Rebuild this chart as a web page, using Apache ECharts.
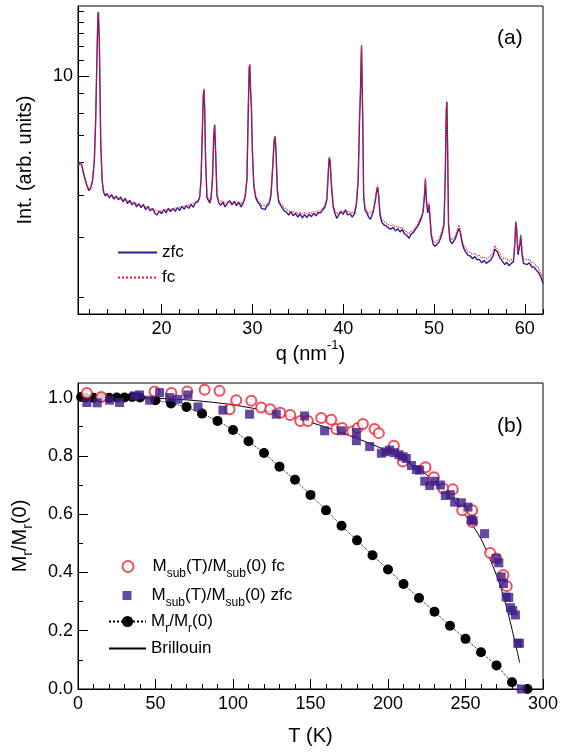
<!DOCTYPE html>
<html><head><meta charset="utf-8">
<script src="https://cdn.jsdelivr.net/npm/echarts@6/dist/echarts.min.js"></script>
<style>html,body{margin:0;padding:0;background:#fff}#c{width:569px;height:752px}</style>
</head><body><div id="c"></div>
<script>
// ---------- panel (a): diffraction patterns ----------
const q = [10.8,11.0,11.2,11.4,11.6,11.8,12.0,12.2,12.4,12.6,12.75,12.9,13.0,13.05,13.15,13.3,13.45,13.6,13.8,14.0,
14.25,14.5,14.75,15.0,15.25,15.5,15.75,16.0,16.25,16.5,16.75,17.0,17.25,17.5,17.75,18.0,18.25,18.5,18.75,19.0,
19.25,19.5,19.75,20.0,20.25,20.5,20.75,21.0,21.25,21.5,21.75,22.0,22.25,22.5,22.75,23.0,23.25,23.5,23.75,24.0,
24.2,24.35,24.5,24.6,24.67,24.75,24.85,25.0,25.15,25.3,25.45,25.6,25.75,25.85,25.95,26.1,26.3,26.5,26.75,27.0,
27.25,27.5,27.75,28.0,28.25,28.5,28.75,29.0,29.2,29.4,29.55,29.65,29.72,29.8,29.9,30.0,30.15,30.35,30.6,30.85,
31.0,31.2,31.4,31.6,31.85,32.05,32.25,32.4,32.5,32.6,32.75,32.9,33.1,33.3,33.5,33.75,34.0,34.25,34.5,34.75,
35.0,35.25,35.5,35.75,36.0,36.25,36.5,36.75,37.0,37.25,37.5,37.75,38.0,38.2,38.35,38.45,38.55,38.7,38.9,39.1,
39.3,39.5,39.75,40.0,40.25,40.5,40.75,41.0,41.25,41.45,41.65,41.8,41.9,41.97,42.02,42.08,42.15,42.25,42.4,42.6,
42.8,43.0,43.3,43.55,43.7,43.8,43.9,44.05,44.25,44.5,44.75,45.0,45.25,45.5,45.75,46.0,46.25,46.5,46.75,47.0,
47.25,47.5,47.75,48.0,48.2,48.4,48.6,48.8,48.95,49.05,49.15,49.3,49.45,49.55,49.7,49.9,50.1,50.3,50.5,50.7,
50.9,51.1,51.25,51.35,51.42,51.5,51.6,51.75,51.95,52.15,52.35,52.55,52.75,52.9,53.1,53.3,53.5,53.75,54.0,54.25,
54.5,54.75,55.0,55.25,55.5,55.75,56.0,56.25,56.5,56.7,56.85,57.0,57.2,57.4,57.6,57.8,58.0,58.25,58.5,58.75,
58.9,59.0,59.1,59.25,59.45,59.55,59.7,59.85,60.0,60.25,60.5,60.75,61.0,61.25,61.5,61.75,62.0];
const zfc = [5.85,6.0,5.92,5.65,5.44,5.25,5.13,5.2,5.42,6.05,7.7,11.7,14.7,14.9,12.3,6.8,5.44,5.1,4.98,5.05,
4.93,5.02,4.9,4.98,4.88,4.96,4.83,4.92,4.78,4.87,4.75,4.82,4.7,4.78,4.68,4.76,4.63,4.71,4.6,4.66,
4.55,4.5,4.6,4.53,4.63,4.55,4.66,4.58,4.66,4.59,4.68,4.61,4.71,4.64,4.73,4.66,4.76,4.69,4.81,4.83,
4.95,5.44,7.3,8.9,9.2,8.14,6.07,4.93,4.87,4.8,4.9,5.44,7.0,7.45,6.4,5.0,4.8,4.74,4.82,4.7,
4.79,4.86,4.75,4.84,4.73,4.82,4.7,4.8,4.95,5.44,8.14,10.5,10.7,9.2,8.14,6.4,5.3,4.95,4.82,4.74,
4.66,4.71,4.63,4.72,4.78,5.0,5.9,6.8,6.94,6.4,5.15,4.82,4.74,4.67,4.6,4.57,4.5,4.58,4.48,4.54,
4.45,4.53,4.43,4.51,4.44,4.52,4.46,4.54,4.48,4.56,4.55,4.62,4.7,4.88,5.6,6.15,6.07,5.3,4.7,4.53,
4.42,4.5,4.58,4.52,4.62,4.5,4.53,4.45,4.53,4.75,5.44,7.7,9.0,11.0,12.0,11.9,7.7,5.0,4.62,4.55,
4.45,4.4,4.57,4.88,5.15,5.22,5.0,4.5,4.33,4.27,4.25,4.2,4.18,4.22,4.14,4.19,4.12,4.17,4.08,4.05,
3.99,4.08,4.11,4.19,4.24,4.33,4.42,4.57,5.0,5.44,4.88,4.55,4.75,4.72,4.05,3.87,3.83,3.82,3.9,3.98,
4.1,4.27,5.75,8.14,8.54,6.4,4.27,3.95,3.88,3.92,3.98,4.1,4.2,4.1,3.89,3.78,3.72,3.66,3.65,3.6,
3.64,3.58,3.59,3.53,3.57,3.52,3.55,3.58,3.65,3.78,3.8,3.72,3.63,3.6,3.54,3.5,3.54,3.48,3.52,3.55,
3.86,4.33,4.16,3.67,3.86,4.03,3.67,3.52,3.55,3.5,3.53,3.46,3.46,3.41,3.37,3.3,3.2];
const fc = [5.88,6.02,5.95,5.7,5.47,5.28,5.17,5.24,5.45,6.1,7.8,11.8,14.6,14.8,12.4,6.9,5.48,5.14,5.02,5.0,
4.98,4.97,4.95,4.93,4.92,4.9,4.88,4.87,4.84,4.82,4.8,4.78,4.77,4.74,4.73,4.71,4.7,4.68,4.66,4.64,
4.62,4.6,4.58,4.6,4.61,4.63,4.62,4.64,4.65,4.67,4.68,4.7,4.71,4.72,4.74,4.75,4.77,4.79,4.82,4.86,
4.98,5.5,7.4,9.0,9.25,8.2,6.1,4.98,4.92,4.86,4.95,5.5,7.05,7.5,6.45,5.05,4.86,4.82,4.84,4.8,
4.82,4.84,4.8,4.83,4.79,4.82,4.78,4.84,4.98,5.5,8.2,10.6,10.75,9.25,8.2,6.45,5.35,5.0,4.88,4.8,
4.74,4.74,4.72,4.76,4.82,5.05,5.95,6.85,7.0,6.45,5.2,4.88,4.8,4.74,4.68,4.64,4.6,4.6,4.57,4.58,
4.54,4.56,4.53,4.55,4.53,4.56,4.55,4.58,4.57,4.6,4.62,4.67,4.76,4.94,5.65,6.2,6.12,5.35,4.76,4.6,
4.52,4.55,4.6,4.58,4.63,4.57,4.58,4.54,4.6,4.8,5.5,7.8,9.1,11.1,12.1,12.0,7.8,5.05,4.68,4.6,
4.52,4.48,4.62,4.92,5.2,5.28,5.05,4.57,4.4,4.34,4.32,4.27,4.26,4.27,4.22,4.24,4.2,4.22,4.16,4.12,
4.08,4.13,4.17,4.24,4.29,4.38,4.47,4.62,5.05,5.5,4.94,4.6,4.8,4.77,4.1,3.94,3.9,3.9,3.96,4.04,
4.16,4.33,5.8,8.2,8.6,6.45,4.33,4.02,3.95,3.98,4.04,4.16,4.27,4.16,3.95,3.85,3.79,3.73,3.71,3.68,
3.7,3.65,3.66,3.61,3.63,3.6,3.62,3.65,3.71,3.84,3.86,3.78,3.7,3.67,3.61,3.58,3.6,3.56,3.58,3.61,
3.9,4.36,4.2,3.73,3.9,4.07,3.73,3.6,3.61,3.58,3.59,3.54,3.53,3.48,3.44,3.36,3.24];
const OFFSET = 1;                 // intensity axis is logarithmic in (I - 1)
const intRange = [2.787, 15.47];
const intMinorTicks = [3,4,5,6,7,8,9,11,12,13,14,15];
const intMajorTicks = [10];
const qRange = [10.8, 62];
const qMajorTicks = [20,30,40,50,60];
const qMinorTicks = [12,14,16,18,22,24,26,28,32,34,36,38,42,44,46,48,52,54,56,58,62];

// ---------- panel (b): magnetisation ----------
const T_Mr = [2,5,10,15,20,25,30,35,40,50,60,70,80,90,100,110,120,130,140,150,160,170,180,190,200,210,220,230,240,250,260,270,280,290];
const Mr   = [1.002,1.0,0.999,1.0,0.999,1.0,1.0,1.002,1.0,0.991,0.98,0.968,0.945,0.92,0.889,0.85,0.81,0.763,0.718,0.666,0.613,0.56,0.51,0.459,0.41,0.36,0.312,0.265,0.217,0.172,0.126,0.081,0.023,0.0];
const T_fc = [5.7,15,49.4,60.2,70.5,81.7,91.3,97.8,102.1,111.8,118.2,124,130.5,136.9,143.4,148.3,156.9,163.4,166.6,170.4,176.9,180.5,183.8,191.3,194.1,203.8,209.6,224.2,229.6,235.8,241.8,247.9,254.3,254.3,265.9,269.8,274.5,276.6];
const M_fc = [1.016,1.002,1.021,1.016,1.021,1.027,1.023,0.96,0.991,0.989,0.966,0.96,0.948,0.94,0.92,0.92,0.93,0.924,0.892,0.896,0.884,0.896,0.909,0.892,0.878,0.835,0.781,0.761,0.727,0.687,0.685,0.613,0.613,0.573,0.467,0.448,0.391,0.353];
const T_zfc = [5.7,12.4,20.4,26.8,36.5,39.7,46.2,52.6,59.1,64.5,70.9,77.4,93.5,110.7,127.9,146.2,159.1,169.9,179.6,179.6,188.2,195.7,198.5,201.1,204.3,207.1,209.7,211.8,215.1,218.3,220.4,223.7,226.9,230.1,233.8,237,240.2,243,247.3,251.6,253.8,254.8,262.3,269.8,271.5,273,274.5,276.2,277.9,279,280.5,282.2,283.7,284.8,286];
const M_zfc = [0.983,0.982,0.991,0.983,1.006,1.009,0.991,1.017,1.0,0.994,1.009,0.968,0.957,0.943,0.943,0.937,0.886,0.886,0.88,0.852,0.832,0.809,0.814,0.82,0.811,0.804,0.797,0.791,0.767,0.753,0.751,0.713,0.698,0.713,0.7,0.664,0.667,0.641,0.639,0.624,0.581,0.577,0.533,0.448,0.433,0.385,0.362,0.316,0.314,0.279,0.269,0.254,0.157,0.157,0.0];
const T_B = [0,25,50,75,100,125,150,175,200,225,240,250,260,270,275,280,285];
const M_B = [1.0,1.0,0.998,0.99,0.975,0.95,0.915,0.87,0.815,0.735,0.66,0.595,0.515,0.39,0.31,0.205,0.09];
const tMajorTicks = [0,50,100,150,200,250,300];
const tMinorTicks = [10,20,30,40,60,70,80,90,110,120,130,140,160,170,180,190,210,220,230,240,260,270,280,290];
const mMajorTicks = [0,0.2,0.4,0.6,0.8,1.0];
const mMinorTicks = [0.1,0.3,0.5,0.7,0.9];

// ---------- build ----------
const F = '"Liberation Sans", Arial, Helvetica, sans-serif';
const BLACK = '#000';
const RED = '#ee2233';
const PURPLE = '#3d1c87';
const toAxis = v => Math.log10(v - OFFSET);
const pair = (xs, ys) => xs.map((x, i) => [x, ys[i]]);

const richText = {
  n: {fontSize: 17, fontFamily: F, color: BLACK, lineHeight: 26},
  s: {fontSize: 12, fontFamily: F, color: BLACK, lineHeight: 12, verticalAlign: 'bottom'},
  g14: {width: 14, lineHeight: 26},
  g15: {width: 15, lineHeight: 26}
};
const nameRich = {
  n: {fontSize: 20, fontFamily: F, color: BLACK, lineHeight: 30},
  s: {fontSize: 14, fontFamily: F, color: BLACK, lineHeight: 14, verticalAlign: 'bottom'},
  p: {fontSize: 13, fontFamily: F, color: BLACK, lineHeight: 13, verticalAlign: 'top'}
};

const axisLine = {show: true, onZero: false, lineStyle: {color: BLACK, width: 1}};
const lbl = {color: BLACK, fontSize: 18, fontFamily: F};

function mainX(grid, range, major, name, gap) {
  return {type: 'value', gridIndex: grid, min: range[0], max: range[1], position: 'bottom',
    axisLine: axisLine, splitLine: {show: false},
    axisTick: {show: true, inside: true, length: 10, customValues: major, lineStyle: {color: BLACK}},
    axisLabel: Object.assign({customValues: major, margin: 6}, lbl),
    name: name, nameLocation: 'middle', nameGap: gap,
    nameTextStyle: {fontSize: 20, fontFamily: F, color: BLACK, rich: nameRich}};
}
function minorX(grid, range, minor) {
  return {type: 'value', gridIndex: grid, min: range[0], max: range[1], position: 'bottom',
    axisLine: {show: false}, splitLine: {show: false}, axisLabel: {show: false},
    axisTick: {show: true, inside: true, length: 5, customValues: minor, lineStyle: {color: BLACK}}};
}
function mainY(grid, min, max, major, fmt, name, gap, len) {
  return {type: 'value', gridIndex: grid, min: min, max: max, position: 'left',
    axisLine: axisLine, splitLine: {show: false},
    axisTick: {show: true, inside: true, length: len, customValues: major, lineStyle: {color: BLACK}},
    axisLabel: Object.assign({customValues: major, margin: 5, formatter: fmt}, lbl),
    name: name, nameLocation: 'middle', nameGap: gap, nameRotate: 90,
    nameTextStyle: {fontSize: 20, fontFamily: F, color: BLACK, rich: nameRich}};
}
function minorY(grid, min, max, minor, len) {
  return {type: 'value', gridIndex: grid, min: min, max: max, position: 'left',
    axisLine: {show: false}, splitLine: {show: false}, axisLabel: {show: false},
    axisTick: {show: true, inside: true, length: len, customValues: minor, lineStyle: {color: BLACK}}};
}

const noSymbol = {color: 'rgba(0,0,0,0)', borderColor: 'rgba(0,0,0,0)', borderWidth: 0, opacity: 0};
const legendNames = {
  'Msub fc': '{g14|}{n|M}{s|sub}{n|(T)/M}{s|sub}{n|(0) fc}',
  'Msub zfc': '{g15|}{n|M}{s|sub}{n|(T)/M}{s|sub}{n|(0) zfc}',
  'Mr': '{n|M}{s|r}{n|/M}{s|r}{n|(0)}',
  'Brillouin': '{n|Brillouin}'
};
function legendOne(item, left, top, w, h) {
  return {data: [item], orient: 'vertical', left: left, top: top, itemWidth: w, itemHeight: h,
    itemGap: 0, padding: 0, selectedMode: false,
    formatter: n => legendNames[n], textStyle: {rich: richText, fontSize: 17, fontFamily: F, color: BLACK}};
}

const chart = echarts.init(document.getElementById('c'), null, {renderer: 'canvas'});
chart.setOption({
  animation: false,
  backgroundColor: '#fff',
  grid: [
    {left: 78, top: 6, width: 465, height: 308, show: true, borderColor: BLACK, borderWidth: 1, backgroundColor: 'transparent'},
    {left: 78, top: 383, width: 465, height: 306, show: true, borderColor: BLACK, borderWidth: 1, backgroundColor: 'transparent'}
  ],
  title: [
    {text: '(a)', left: 497, top: 28, padding: 0, textStyle: {fontSize: 21, fontWeight: 'normal', fontFamily: F, color: BLACK}},
    {text: '(b)', left: 497, top: 416, padding: 0, textStyle: {fontSize: 21, fontWeight: 'normal', fontFamily: F, color: BLACK}}
  ],
  xAxis: [
    mainX(0, qRange, qMajorTicks, '{n|q (nm}{p|-1}{n|)}', 25),
    minorX(0, qRange, qMinorTicks),
    mainX(1, [0, 300], tMajorTicks, 'T (K)', 37),
    minorX(1, [0, 300], tMinorTicks)
  ],
  yAxis: [
    minorY(0, toAxis(intRange[0]), toAxis(intRange[1]), intMinorTicks.map(toAxis), 6),
    mainY(0, toAxis(intRange[0]), toAxis(intRange[1]), intMajorTicks.map(toAxis),
      v => String(Math.round(Math.pow(10, v) + OFFSET)), 'Int. (arb. units)', 43, 11),
    mainY(1, 0, 1.05, mMajorTicks, v => v.toFixed(1), '{n|M}{s|r}{n|/M}{s|r}{n|(0)}', 43, 10),
    minorY(1, 0, 1.05, mMinorTicks, 5)
  ],
  legend: [
    {data: [{name: 'zfc', itemStyle: noSymbol}, {name: 'fc', itemStyle: noSymbol}],
     orient: 'vertical', left: 117, top: 244, itemWidth: 39, itemHeight: 14, itemGap: 8,
     padding: 0, selectedMode: false, textStyle: {fontSize: 17, fontFamily: F, color: BLACK}},
    legendOne('Msub fc', 121.5, 558, 11, 11),
    legendOne('Msub zfc', 122.5, 587, 9, 9),
    legendOne('Mr', 108, 613, 37, 14),
    legendOne({name: 'Brillouin', itemStyle: noSymbol}, 108, 640, 37, 14)
  ],
  series: [
    {name: 'zfc', type: 'line', xAxisIndex: 0, yAxisIndex: 0, data: pair(q, zfc.map(toAxis)),
     symbol: 'none', showSymbol: false, lineStyle: {color: '#3b1a8a', width: 1.4}, itemStyle: {color: '#3b1a8a'}, z: 2},
    {name: 'fc', type: 'line', xAxisIndex: 0, yAxisIndex: 0, data: pair(q, fc.map(toAxis)),
     symbol: 'none', showSymbol: false, lineStyle: {color: RED, width: 1.2, type: 'dotted'}, itemStyle: {color: RED}, z: 3},
    {name: 'Brillouin', type: 'line', xAxisIndex: 2, yAxisIndex: 2, data: pair(T_B, M_B), smooth: 0.3,
     symbol: 'none', showSymbol: false, lineStyle: {color: BLACK, width: 1}, itemStyle: {color: BLACK}, z: 2},
    {name: 'Mr', type: 'line', xAxisIndex: 2, yAxisIndex: 2, data: pair(T_Mr, Mr),
     symbol: 'circle', symbolSize: 10, lineStyle: {color: BLACK, width: 1, type: 'dotted'}, itemStyle: {color: BLACK}, z: 3},
    {name: 'Msub fc', type: 'scatter', xAxisIndex: 2, yAxisIndex: 2, data: pair(T_fc, M_fc),
     symbol: 'emptyCircle', symbolSize: 10, itemStyle: {color: RED, borderColor: RED, borderWidth: 1}, z: 4},
    {name: 'Msub zfc', type: 'scatter', xAxisIndex: 2, yAxisIndex: 2, data: pair(T_zfc, M_zfc),
     symbol: 'rect', symbolSize: 9, itemStyle: {color: PURPLE}, z: 5}
  ]
});
</script>
</body></html>
